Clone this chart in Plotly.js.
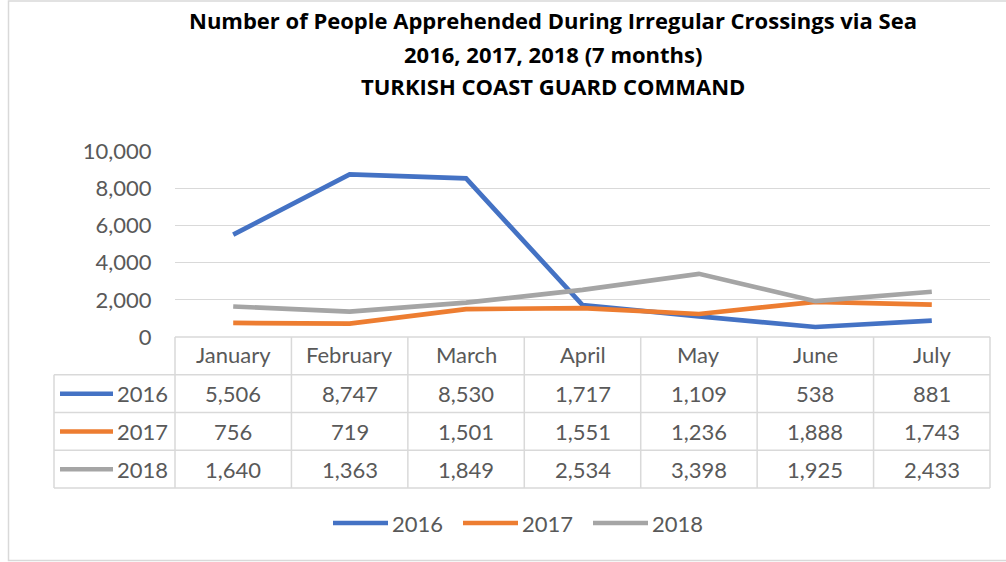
<!DOCTYPE html>
<html><head><meta charset="utf-8">
<script src="https://cdn.plot.ly/plotly-3.0.1.min.js"></script>
<style>html,body{margin:0;padding:0;background:#fff}#chart{width:1006px;height:562px}</style>
</head><body><div id="chart"></div>
<script>
// ---- data ----
const months = ['January','February','March','April','May','June','July'];
const years = ['2016','2017','2018'];
const v2016 = [5506,8747,8530,1717,1109,538,881];
const v2017 = [756,719,1501,1551,1236,1888,1743];
const v2018 = [1640,1363,1849,2534,3398,1925,2433];
const yTicks = [0,2000,4000,6000,8000,10000];
const titleLines = ['Number of People Apprehended During Irregular Crossings via Sea','2016, 2017, 2018 (7 months)','TURKISH COAST GUARD COMMAND'];

const series = [v2016, v2017, v2018];
const colors = ['#4472C4','#ED7D31','#A5A5A5'];
const FONT = 'Lato, "Open Sans", sans-serif';
const TFONT = '"Open Sans", Lato, sans-serif';
const FS = 22;
const TFS = 22;
const TXT = '#595959';
const GRID = '#d9d9d9';

// ---- layout geometry ----
const W=1006, H=562, L=175, R=16, T=151, B=225;
const pw = W-L-R, ph = H-T-B;
const xRange = [-0.5, 6.5];
const px2x = p => (p-L)/pw;
const px2y = p => (T+ph-p)/ph;
const dx = v => (v-xRange[0])/(xRange[1]-xRange[0]);

const tableTop = T+ph;       // 337
const rowH = 37.75;
const legColLeft = 54;
const rowY = r => tableTop + r*rowH;   // r=0 header top

const traces = series.map((vals,i)=>({
  type:'scatter', mode:'lines', name: years[i],
  x: months, y: vals,
  line:{color:colors[i], width:4.7},
  showlegend:false, hoverinfo:'x+y+name'
}));

const shapes = [];
const annotations = [];
const lineStyle = {color:GRID, width:1.5};

// horizontal table lines
shapes.push({type:'line', xref:'paper', yref:'paper', x0:dx(-0.5), x1:dx(6.5), y0:px2y(rowY(0)), y1:px2y(rowY(0)), line:lineStyle});
for(let r=1;r<=4;r++){
  shapes.push({type:'line', xref:'paper', yref:'paper', x0:px2x(legColLeft), x1:dx(6.5), y0:px2y(rowY(r)), y1:px2y(rowY(r)), line:lineStyle});
}
// vertical table lines
for(let k=0;k<=months.length;k++){
  shapes.push({type:'line', xref:'paper', yref:'paper', x0:dx(k-0.5), x1:dx(k-0.5), y0:px2y(rowY(0)), y1:px2y(rowY(4)), line:lineStyle});
}
shapes.push({type:'line', xref:'paper', yref:'paper', x0:px2x(legColLeft), x1:px2x(legColLeft), y0:px2y(rowY(1)), y1:px2y(rowY(4)), line:lineStyle});

// header cells
months.forEach((m,i)=>{
  annotations.push({xref:'x', yref:'paper', x:i, y:px2y(rowY(0)+rowH/2-1), text:m, showarrow:false,
    font:{family:FONT, size:FS, color:TXT}, xanchor:'center', yanchor:'middle'});
});
// value cells + legend column
series.forEach((vals,si)=>{
  const yc = px2y(rowY(si+1)+rowH/2);
  vals.forEach((v,i)=>{
    annotations.push({xref:'x', yref:'paper', x:i, y:yc, text:v.toLocaleString('en-US'), showarrow:false,
      font:{family:FONT, size:FS, color:TXT}, xanchor:'center', yanchor:'middle'});
  });
  shapes.push({type:'line', xref:'paper', yref:'paper', x0:px2x(60), x1:px2x(113), y0:yc, y1:yc, line:{color:colors[si], width:4.5}});
  annotations.push({xref:'paper', yref:'paper', x:px2x(170), y:yc, text:years[si], showarrow:false,
    font:{family:FONT, size:FS, color:TXT}, xanchor:'right', yanchor:'middle'});
});

// bottom legend
const legY = px2y(523);
const legStart = [333, 463, 593];
years.forEach((yr,i)=>{
  shapes.push({type:'line', xref:'paper', yref:'paper', x0:px2x(legStart[i]), x1:px2x(legStart[i]+55), y0:legY, y1:legY, line:{color:colors[i], width:4.5}});
  annotations.push({xref:'paper', yref:'paper', x:px2x(legStart[i]+57), y:legY, text:yr, showarrow:false,
    font:{family:FONT, size:FS, color:TXT}, xanchor:'left', yanchor:'middle'});
});

// title lines 2 and 3
annotations.push({xref:'paper', yref:'paper', x:px2x(553), y:px2y(54), text:'<b>'+titleLines[1]+'</b>', showarrow:false,
  font:{family:TFONT, size:TFS, color:'#000'}, xanchor:'center', yanchor:'middle'});
annotations.push({xref:'paper', yref:'paper', x:px2x(553), y:px2y(86), text:'<b>'+titleLines[2]+'</b>', showarrow:false,
  font:{family:TFONT, size:TFS, color:'#000'}, xanchor:'center', yanchor:'middle'});

// chart border
shapes.push({type:'rect', xref:'paper', yref:'paper', x0:px2x(8.5), x1:px2x(1012), y0:px2y(1), y1:px2y(560.5), line:{color:GRID, width:1.5}, fillcolor:'rgba(0,0,0,0)'});

const layout = {
  width:W, height:H,
  margin:{l:L, r:R, t:T, b:B, pad:0},
  paper_bgcolor:'#fff', plot_bgcolor:'#fff',
  font:{family:FONT, color:TXT},
  title:{text:'<b>'+titleLines[0]+'</b>', x:553/W, xanchor:'center', y:1-21/H, yanchor:'middle', font:{family:TFONT, size:TFS, color:'#000'}},
  xaxis:{type:'category', range:xRange, showticklabels:false, showgrid:false, zeroline:false, showline:false, ticks:'', fixedrange:true},
  yaxis:{range:[0,10000], tickvals:yTicks, tickformat:',d', showgrid:true, gridcolor:GRID, gridwidth:1.3, zeroline:false, showline:false,
    ticks:'outside', ticklen:18, tickcolor:'rgba(0,0,0,0)', tickfont:{family:FONT, size:FS, color:TXT}, fixedrange:true},
  shapes, annotations,
  showlegend:false
};

Plotly.newPlot('chart', traces, layout, {displayModeBar:false, staticPlot:true});
</script>
</body></html>
